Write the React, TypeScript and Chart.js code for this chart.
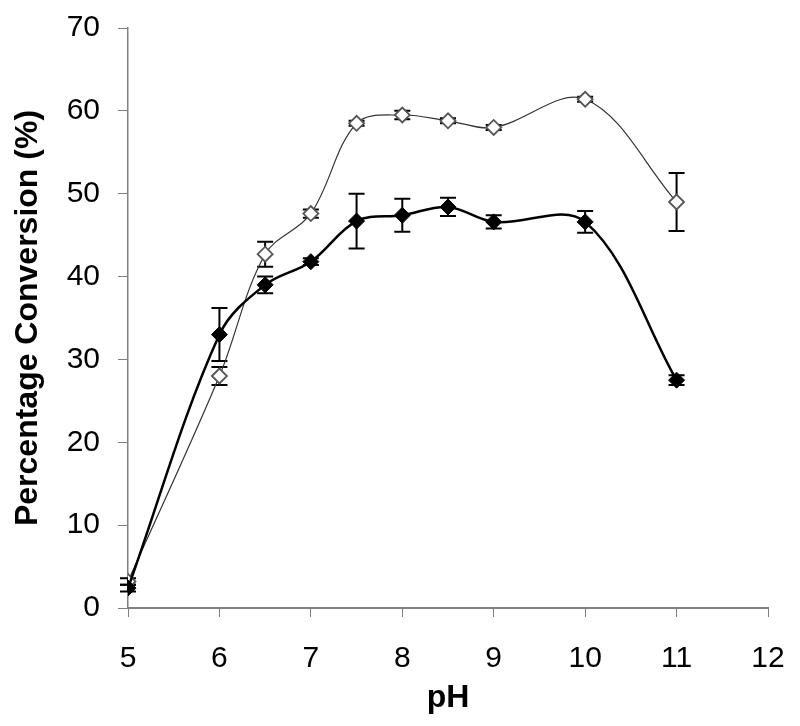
import React, { useEffect, useRef } from "react";
import { Chart, registerables } from "chart.js";

Chart.register(...registerables);

const phValues = [5, 6, 6.5, 7, 7.5, 8, 8.5, 9, 10, 11];
const filledSeries = [2.4, 33.0, 39.0, 41.8, 46.7, 47.4, 48.4, 46.6, 46.6, 27.5];
const filledErrors = [0.4, 3.2, 1.0, 0.4, 3.3, 2.0, 1.1, 0.8, 1.3, 0.6];
const openSeries = [3.2, 28.0, 42.7, 47.6, 58.5, 59.5, 58.8, 58.0, 61.4, 49.0];
const openErrors = [0.4, 1.1, 1.5, 0.5, 0.3, 0.5, 0.3, 0.3, 0.3, 3.5];
const xTicks = [5, 6, 7, 8, 9, 10, 11, 12];
const yTicks = [0, 10, 20, 30, 40, 50, 60, 70];

const FONT = "Arial, 'Liberation Sans', Helvetica, sans-serif";
const AXIS_GRAY = "#808080";

const errorBarPlugin = {
  id: "errorBars",
  beforeDatasetsDraw(chart: any) {
    const ctx = chart.ctx;
    const xs = chart.scales.x;
    const ys = chart.scales.y;
    const sets = [
      { vals: filledSeries, errs: filledErrors },
      { vals: openSeries, errs: openErrors },
    ];
    ctx.save();
    ctx.strokeStyle = "#000";
    ctx.lineWidth = 2;
    const cap = 8;
    sets.forEach((s) => {
      s.vals.forEach((v, i) => {
        const px = xs.getPixelForValue(phValues[i]);
        const top = ys.getPixelForValue(v + s.errs[i]);
        const bot = ys.getPixelForValue(v - s.errs[i]);
        ctx.beginPath();
        ctx.moveTo(px, top);
        ctx.lineTo(px, bot);
        ctx.moveTo(px - cap, top);
        ctx.lineTo(px + cap, top);
        ctx.moveTo(px - cap, bot);
        ctx.lineTo(px + cap, bot);
        ctx.stroke();
      });
    });
    ctx.restore();
  },
};

export default function App() {
  const ref = useRef<HTMLCanvasElement | null>(null);
  useEffect(() => {
    if (!ref.current) return;
    const chart = new Chart(ref.current, {
      type: "scatter",
      data: {
        datasets: [
          {
            label: "filled",
            data: phValues.map((x, i) => ({ x, y: filledSeries[i] })),
            showLine: true,
            borderColor: "#000",
            borderWidth: 2.5,
            tension: 0.35,
            pointStyle: "rectRot",
            pointRadius: 8,
            pointBackgroundColor: "#000",
            pointBorderColor: "#000",
            pointBorderWidth: 1,
          },
          {
            label: "open",
            data: phValues.map((x, i) => ({ x, y: openSeries[i] })),
            showLine: true,
            borderColor: "#333",
            borderWidth: 1.2,
            tension: 0.35,
            pointStyle: "rectRot",
            pointRadius: 7.5,
            pointBackgroundColor: "#fff",
            pointBorderColor: "#555",
            pointBorderWidth: 1.8,
          },
        ],
      },
      options: {
        responsive: false,
        animation: false,
        devicePixelRatio: 1,
        layout: { padding: { left: 0, right: 32, top: 28, bottom: 0 } },
        plugins: {
          legend: { display: false },
          tooltip: { enabled: false },
        },
        scales: {
          x: {
            type: "linear",
            min: 5,
            max: 12,
            afterBuildTicks: (s: any) => {
              s.ticks = xTicks.map((v) => ({ value: v }));
            },
            afterFit: (s: any) => {
              s.height = 118;
              s.paddingLeft = 0;
              s.paddingRight = 0;
            },
            grid: {
              display: true,
              drawOnChartArea: false,
              drawTicks: true,
              tickLength: 9,
              tickColor: AXIS_GRAY,
              lineWidth: 1,
            },
            border: { display: true, color: AXIS_GRAY, width: 2 },
            ticks: {
              color: "#000",
              font: { family: FONT, size: 30 },
              padding: 24,
              maxRotation: 0,
            },
            title: {
              display: true,
              text: "pH",
              color: "#000",
              font: { family: FONT, size: 32, weight: "bold" },
              padding: { top: 0, bottom: 9 },
            },
          },
          y: {
            type: "linear",
            min: 0,
            max: 70,
            afterBuildTicks: (s: any) => {
              s.ticks = yTicks.map((v) => ({ value: v }));
            },
            afterFit: (s: any) => {
              s.width = 128;
              s.paddingTop = 0;
              s.paddingBottom = 0;
            },
            grid: {
              display: true,
              drawOnChartArea: false,
              drawTicks: true,
              tickLength: 10,
              tickColor: AXIS_GRAY,
              lineWidth: 1,
            },
            border: { display: true, color: AXIS_GRAY, width: 1.5 },
            ticks: {
              color: "#000",
              font: { family: FONT, size: 30 },
              padding: 18,
            },
            title: {
              display: true,
              text: "Percentage Conversion (%)",
              color: "#000",
              font: { family: FONT, size: 32, weight: "bold" },
              padding: { top: 9, bottom: 0 },
            },
          },
        },
      },
      plugins: [errorBarPlugin],
    } as any);
    return () => chart.destroy();
  }, []);
  return (
    <div style={{ position: "absolute", left: 0, top: 0, width: 800, height: 726, background: "#fff" }}>
      <canvas ref={ref} width={800} height={726} style={{ display: "block" }} />
    </div>
  );
}
